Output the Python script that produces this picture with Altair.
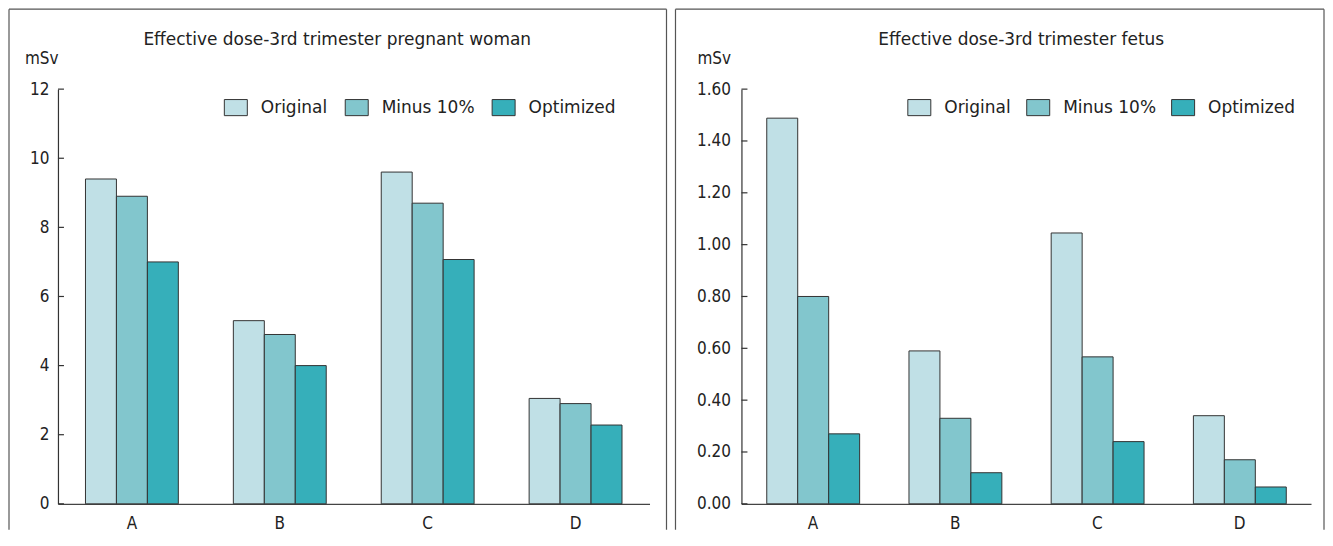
import altair as alt
import pandas as pd

FONT = "DejaVu Sans, sans-serif"
TICK_FONT = "DejaVu Sans Condensed, DejaVu Sans, sans-serif"

groups = ["A", "B", "C", "D"]
series = ["Original", "Minus 10%", "Optimized"]
colors = ["#c0e0e6", "#82c6cd", "#36afba"]

woman_original = [9.4, 5.3, 9.6, 3.05]
woman_minus10 = [8.9, 4.9, 8.7, 2.9]
woman_optimized = [7.0, 4.0, 7.07, 2.28]

fetus_original = [1.488, 0.59, 1.045, 0.34]
fetus_minus10 = [0.80, 0.33, 0.567, 0.17]
fetus_optimized = [0.27, 0.12, 0.24, 0.065]

woman_ticks = [0, 2, 4, 6, 8, 10, 12]
fetus_ticks = [0.0, 0.2, 0.4, 0.6, 0.8, 1.0, 1.2, 1.4, 1.6]

woman_title = "Effective dose-3rd trimester pregnant woman"
fetus_title = "Effective dose-3rd trimester fetus"
unit = "mSv"


def make_df(vals_list):
    rows = []
    for s, vals in zip(series, vals_list):
        for g, v in zip(groups, vals):
            rows.append({"group": g, "series": s, "value": v})
    return pd.DataFrame(rows)


def one_row():
    return pd.DataFrame({"k": [0]})


def panel(df, ticks, ymax, fmt, width, pin, pout, title, title_x,
          b_left, b_right, msv_x, label_pad, col_pad):
    height = 415
    top = -80
    bottom = 441
    color = alt.Color(
        "series:N", sort=series,
        scale=alt.Scale(domain=series, range=colors),
        legend=alt.Legend(
            title=None, orient="none", legendX=166, legendY=6,
            direction="horizontal",
            symbolType="M-1,-0.7H1V0.7H-1Z", symbolSize=529,
            symbolStrokeColor="#333", symbolStrokeWidth=1, symbolOpacity=1,
            labelFontSize=17, labelColor="#222", labelOffset=13,
            columnPadding=col_pad, padding=0, labelFont=FONT,
        ),
    )
    bars = alt.Chart(df).mark_bar(stroke="#333", strokeWidth=1, opacity=1).encode(
        x=alt.X("group:N", sort=groups,
                scale=alt.Scale(paddingInner=pin, paddingOuter=pout),
                axis=alt.Axis(title=None, labelAngle=0, ticks=False,
                              domainColor="#444", domainWidth=1.2,
                              labelFontSize=17, labelColor="#222",
                              labelPadding=12, labelFont=TICK_FONT)),
        xOffset=alt.XOffset("series:N", sort=series,
                            scale=alt.Scale(paddingInner=0, paddingOuter=0)),
        y=alt.Y("value:Q", scale=alt.Scale(domain=[0, ymax], nice=False, zero=True),
                axis=alt.Axis(title=None, values=ticks, format=fmt, ticks=False,
                              grid=False, domainColor="#333", domainWidth=1.2,
                              labelFontSize=17, labelColor="#222",
                              labelPadding=label_pad, labelFont=TICK_FONT)),
        color=color,
    )
    tick_rules = alt.Chart(pd.DataFrame({"value": ticks})).mark_rule(
        color="#333", strokeWidth=1.2
    ).encode(y=alt.Y("value:Q"), x=alt.value(0), x2=alt.value(6))

    border_l = alt.Chart(one_row()).mark_rule(color="#555", strokeWidth=1.2).encode(
        x=alt.value(b_left), x2=alt.value(b_left), y=alt.value(top), y2=alt.value(bottom))
    border_r = alt.Chart(one_row()).mark_rule(color="#555", strokeWidth=1.2).encode(
        x=alt.value(b_right), x2=alt.value(b_right), y=alt.value(top), y2=alt.value(bottom))
    border_t = alt.Chart(one_row()).mark_rule(color="#555", strokeWidth=1.2).encode(
        x=alt.value(b_left), x2=alt.value(b_right), y=alt.value(top), y2=alt.value(top))

    title_txt = alt.Chart(pd.DataFrame({"t": [title]})).mark_text(
        fontSize=17, color="#222", align="center", baseline="middle", font=FONT
    ).encode(text="t:N", x=alt.value(title_x), y=alt.value(-49))
    unit_txt = alt.Chart(pd.DataFrame({"t": [unit]})).mark_text(
        fontSize=17, color="#222", align="left", baseline="middle", font=TICK_FONT
    ).encode(text="t:N", x=alt.value(msv_x), y=alt.value(-30))

    return alt.layer(bars, tick_rules, border_l, border_r, border_t,
                     title_txt, unit_txt).properties(width=width, height=height)


left = panel(make_df([woman_original, woman_minus10, woman_optimized]),
             woman_ticks, 12, "d", 592, 0.372, 0.186, woman_title, 279.5,
             -49, 609, -33, 9, 15)
right = panel(make_df([fetus_original, fetus_minus10, fetus_optimized]),
              fetus_ticks, 1.6, ".2f", 570, 0.351, 0.178, fetus_title, 280,
              -66, 583, -44, 11, 13)

chart = alt.hconcat(left, right, spacing=7).resolve_legend(
    color="independent"
).configure(
    font=FONT,
    padding={"left": 0, "top": 0, "right": 0, "bottom": 0},
).configure_view(stroke=None)

chart.save("out.html", embed_options={"renderer": "svg", "actions": False})
